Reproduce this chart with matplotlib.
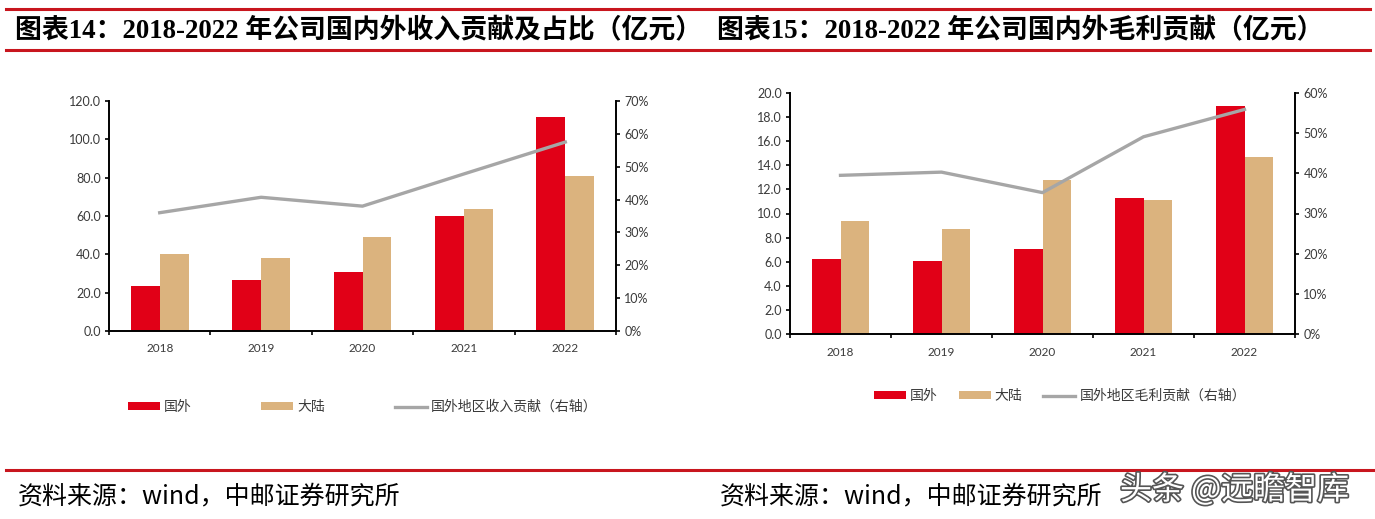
import matplotlib
matplotlib.use("Agg")
import matplotlib.pyplot as plt
import matplotlib.patheffects as pe
from matplotlib.patches import Patch
from matplotlib.lines import Line2D
from matplotlib.ticker import FuncFormatter, MultipleLocator
import numpy as np

years = ['2018', '2019', '2020', '2021', '2022']

# 图表14 收入（亿元）
rev_overseas = [23.5, 26.4, 30.8, 59.8, 111.7]
rev_mainland = [40.2, 38.1, 49.0, 63.7, 80.9]
rev_share = [0.360, 0.407, 0.380, 0.478, 0.575]

# 图表15 毛利（亿元）
gp_overseas = [6.25, 6.06, 7.06, 11.25, 18.95]
gp_mainland = [9.36, 8.72, 12.78, 11.10, 14.70]
gp_share = [0.395, 0.403, 0.352, 0.491, 0.559]

RED = '#E10017'
TAN = '#DBB37E'
GRAY = '#A6A6A6'
TXT = '#3A3A3A'
LINE_RED = '#C8161E'

W, H = 1375, 519
fig = plt.figure(figsize=(W / 100, H / 100), dpi=100)

cjk = ['Noto Sans CJK SC', 'DejaVu Sans']
num = 'Lato'


def fx(px):
    return px / W


def fy(py):
    return 1 - py / H


def draw_chart(rect, overseas, mainland, share, ymax, ystep, rmax):
    ax = fig.add_axes(rect)
    x = np.arange(len(years))
    w = 0.285
    ax.bar(x - w / 2, overseas, width=w, color=RED, zorder=2)
    ax.bar(x + w / 2, mainland, width=w, color=TAN, zorder=2)
    ax.set_xlim(-0.5, len(years) - 0.5)
    ax.set_ylim(0, ymax)
    ax.yaxis.set_major_locator(MultipleLocator(ystep))
    ax.yaxis.set_major_formatter(FuncFormatter(lambda v, p: f'{v:.1f}'))
    ax.set_xticks(x)
    ax.set_xticklabels(years)
    ax.set_xticks(np.arange(-0.5, len(years)), minor=True)
    ax.tick_params(axis='x', which='major', length=0, pad=9)
    ax.tick_params(axis='x', which='minor', length=3, width=1.2, direction='out')
    ax.tick_params(axis='y', length=3, width=1.2, direction='out', pad=3)
    for s in ['top', 'right']:
        ax.spines[s].set_visible(False)
    for s in ['left', 'bottom']:
        ax.spines[s].set_linewidth(1.4)
    for lab in ax.get_xticklabels():
        lab.set_fontfamily(num)
        lab.set_fontsize(8.5)
        lab.set_color(TXT)
    for lab in ax.get_yticklabels():
        lab.set_fontfamily(num)
        lab.set_fontsize(9)
        lab.set_color(TXT)

    ax2 = ax.twinx()
    ax2.plot(x, share, color=GRAY, lw=2.4, zorder=3)
    ax2.set_ylim(0, rmax)
    ax2.yaxis.set_major_locator(MultipleLocator(0.1))
    ax2.yaxis.set_major_formatter(FuncFormatter(lambda v, p: f'{v * 100:.0f}%'))
    ax2.tick_params(axis='y', length=3, width=1.2, direction='out', pad=3)
    for s in ['top', 'left', 'bottom']:
        ax2.spines[s].set_visible(False)
    ax2.spines['right'].set_linewidth(1.4)
    for lab in ax2.get_yticklabels():
        lab.set_fontfamily(num)
        lab.set_fontsize(9)
        lab.set_color(TXT)
    return ax


ax1 = draw_chart([fx(109), fy(331), fx(616) - fx(109), fy(101) - fy(331)],
                 rev_overseas, rev_mainland, rev_share, 120, 20, 0.7)
ax3 = draw_chart([fx(790), fy(334), fx(1295) - fx(790), fy(93) - fy(334)],
                 gp_overseas, gp_mainland, gp_share, 20, 2, 0.6)


def legend_handles(line_label):
    return [Patch(facecolor=RED, edgecolor='none', label='国外'),
            Patch(facecolor=TAN, edgecolor='none', label='大陆'),
            Line2D([], [], color=GRAY, lw=2.4, label=line_label)]


leg_kw = dict(ncol=3, frameon=False, handlelength=2.3, handleheight=0.5,
              handletextpad=0.3, borderpad=0, borderaxespad=0,
              prop={'family': cjk, 'size': 10}, labelcolor=TXT, loc='center left')

fig.legend(handles=legend_handles('国外地区收入贡献（右轴）'),
           bbox_to_anchor=(fx(128), fy(407)), columnspacing=5.0, **leg_kw)
fig.legend(handles=legend_handles('国外地区毛利贡献（右轴）'),
           bbox_to_anchor=(fx(874), fy(396)), columnspacing=1.5, **leg_kw)

# 标题与红线
fig.add_artist(Line2D([fx(6), fx(1370)], [fy(9), fy(9)], color=LINE_RED, lw=2.2))
fig.add_artist(Line2D([fx(6), fx(1370)], [fy(50), fy(50)], color=LINE_RED, lw=2.2))
fig.add_artist(Line2D([fx(6), fx(1375)], [fy(470), fy(470)], color=LINE_RED, lw=2.2))

title_font = ['Liberation Serif', 'Noto Sans CJK SC']
fig.text(fx(15), fy(31), '图表14：2018-2022 年公司国内外收入贡献及占比（亿元）',
         family=title_font, weight='bold', fontsize=19.4, va='center', ha='left')
fig.text(fx(717), fy(31), '图表15：2018-2022 年公司国内外毛利贡献（亿元）',
         family=title_font, weight='bold', fontsize=19.4, va='center', ha='left')

fig.text(fx(18), fy(496), '资料来源：wind，中邮证券研究所', family=cjk,
         fontsize=18, va='center', ha='left', color='black')
fig.text(fx(720), fy(496), '资料来源：wind，中邮证券研究所', family=cjk,
         fontsize=18, va='center', ha='left', color='black')

wm = fig.text(fx(1120), fy(490), '头条 @远瞻智库', family=cjk, fontsize=23,
              va='center', ha='left', color='white')
wm.set_path_effects([pe.withStroke(linewidth=2.4, foreground='#555555')])

fig.savefig('out.png', dpi=100)
